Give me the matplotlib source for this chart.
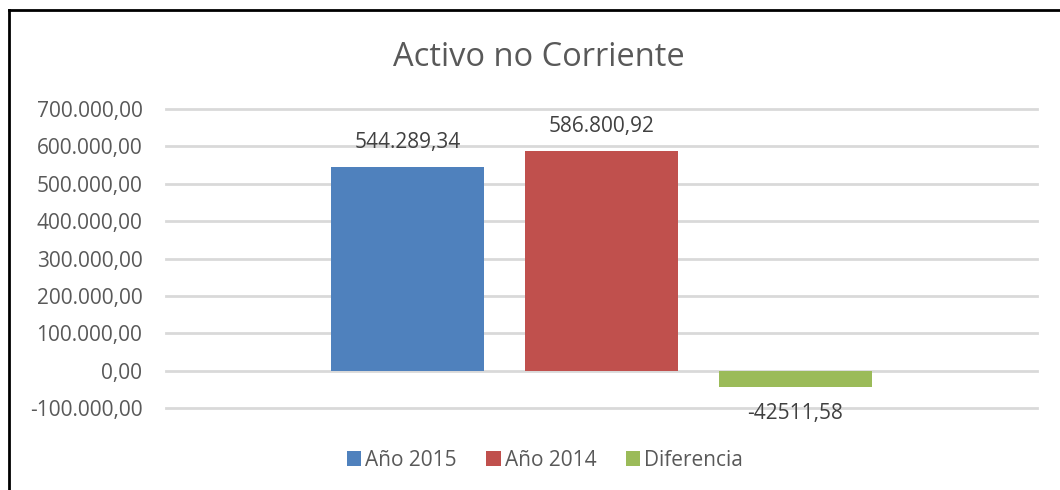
import matplotlib
matplotlib.use("Agg")
import matplotlib.pyplot as plt
from matplotlib.lines import Line2D
from matplotlib.ticker import FuncFormatter

# data
series = ["Año 2015", "Año 2014", "Diferencia"]
values = [544289.34, 586800.92, -42511.58]
value_labels = ["544.289,34", "586.800,92", "-42511,58"]
colors = ["#4f81bd", "#c0504d", "#9bbb59"]
y_ticks = [-100000, 0, 100000, 200000, 300000, 400000, 500000, 600000, 700000]

text_col = "#595959"
plt.rcParams["font.family"] = ["Open Sans", "DejaVu Sans"]

fig = plt.figure(figsize=(10.6, 4.9), dpi=100)
ax = fig.add_axes([166 / 1060, 1 - 408 / 490, (1037 - 166) / 1060, (408 - 109) / 490])


def es_fmt(v, pos=None):
    s = f"{abs(v):,.2f}".replace(",", "X").replace(".", ",").replace("X", ".")
    return ("-" if v < 0 else "") + s


xs = [-1, 0, 1]
for x, v, lab, c, txt in zip(xs, values, series, colors, value_labels):
    ax.bar(x, v, width=0.79, color=c, label=lab, zorder=3)
    if v >= 0:
        ax.annotate(txt, (x, v), xytext=(0, 10), textcoords="offset points",
                    ha="center", va="bottom", fontsize=15, color="#404040")
    else:
        ax.annotate(txt, (x, v), xytext=(0, -12), textcoords="offset points",
                    ha="center", va="top", fontsize=15, color="#404040")

ax.set_xlim(-2.25, 2.25)
ax.set_ylim(-100000, 700000)
ax.set_yticks(y_ticks)
ax.yaxis.set_major_formatter(FuncFormatter(es_fmt))
ax.set_xticks([])
ax.grid(axis="y", color="#d9d9d9", linewidth=2, zorder=0)
for gl in ax.get_ygridlines():
    gl.set_clip_on(False)
for sp in ax.spines.values():
    sp.set_visible(False)
ax.tick_params(axis="y", length=0, pad=17, labelsize=15, labelcolor=text_col)

fig.text(0.508, 1 - 57 / 490, "Activo no Corriente", ha="center", va="center",
         fontsize=23.5, color=text_col)

fig.legend(loc="center", bbox_to_anchor=(545 / 1060, 1 - 460 / 490), ncol=3,
           frameon=False, fontsize=15, labelcolor=text_col, handlelength=0.7,
           handleheight=0.7, handletextpad=0.2, columnspacing=1.4)

# chart border (top and left edges visible)
fig.add_artist(Line2D([9 / 1060, 1], [1 - 10 / 490, 1 - 10 / 490], color="black", linewidth=2))
fig.add_artist(Line2D([9 / 1060, 9 / 1060], [0, 1 - 10 / 490], color="black", linewidth=2))

fig.savefig("out.png", dpi=100, facecolor="white")
